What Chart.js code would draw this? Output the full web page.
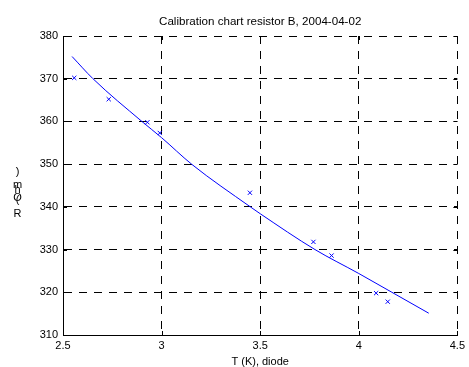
<!DOCTYPE html>
<html>
<head>
<meta charset="utf-8">
<script src="https://cdn.jsdelivr.net/npm/chart.js@4.4.0/dist/chart.umd.min.js"></script>
<style>
  html, body { margin: 0; padding: 0; background: #fff; }
  #wrap { width: 469px; height: 367px; }
</style>
</head>
<body>
<div id="wrap"><canvas id="calChart" width="469" height="367"></canvas></div>
<script>
const measT = [2.557, 2.732, 2.928, 2.991, 3.448, 3.770, 3.862, 4.088, 4.147];
const measR = [370.2, 365.2, 359.8, 357.3, 343.3, 331.8, 328.6, 319.8, 317.8];

// curva di taratura (punti letti lungo la linea blu)
const fitT = [2.546, 2.652, 2.900, 3.000, 3.152, 3.450, 3.500, 3.778, 4.000, 4.168, 4.355];
const fitR = [375.2, 370.0, 360.0, 356.2, 350.0, 340.0, 338.4, 330.0, 324.4, 320.0, 315.1];

const xTicks = [2.5, 3, 3.5, 4, 4.5];
const yTicks = [310, 320, 330, 340, 350, 360, 370, 380];

const titleText = "Calibration chart resistor B, 2004-04-02";
const xTitle = "T (K), diode";
const yTitleChars = ["R", "(", "O", "h", "m", ")"];

const fontFam = "'Liberation Sans', Arial, sans-serif";

// tacche rivolte verso l'interno, su tutti e quattro i lati
const innerTicks = {
    id: "innerTicks",
    afterDraw(chart) {
        const ctx = chart.ctx;
        const a = chart.chartArea;
        const xs = chart.scales.x, ys = chart.scales.y;
        const len = 4;
        ctx.save();
        ctx.strokeStyle = "#000";
        ctx.lineWidth = 1;
        ctx.beginPath();
        xTicks.forEach(v => {
            const px = Math.round(xs.getPixelForValue(v)) + 0.5;
            ctx.moveTo(px, a.bottom); ctx.lineTo(px, a.bottom - len);
            ctx.moveTo(px, a.top); ctx.lineTo(px, a.top + len);
        });
        yTicks.forEach(v => {
            const py = Math.round(ys.getPixelForValue(v)) + 0.5;
            ctx.moveTo(a.left, py); ctx.lineTo(a.left + len, py);
            ctx.moveTo(a.right, py); ctx.lineTo(a.right - len, py);
        });
        ctx.stroke();
        ctx.restore();
    }
};

// titolo centrato sull'area del grafico + etichetta asse Y a caratteri impilati
const labels = {
    id: "labels",
    afterDraw(chart) {
        const ctx = chart.ctx;
        const a = chart.chartArea;
        ctx.save();
        ctx.fillStyle = "#000";
        ctx.textAlign = "center";
        ctx.textBaseline = "middle";
        ctx.font = "11.6px " + fontFam;
        ctx.fillText(titleText, (a.left + a.right) / 2, 22);
        ctx.font = "11px " + fontFam;
        const offs = [214, 200, 198, 190, 185, 172];
        yTitleChars.forEach((c, i) => ctx.fillText(c, 17.5, offs[i]));
        ctx.restore();
    }
};

const ctx = document.getElementById("calChart").getContext("2d");

new Chart(ctx, {
    type: "scatter",
    data: {
        datasets: [
            {
                label: "misure",
                data: measT.map((t, i) => ({ x: t, y: measR[i] })),
                pointStyle: "crossRot",
                pointRadius: 3,
                pointBorderWidth: 1,
                borderColor: "#0000ff",
                backgroundColor: "#0000ff",
                showLine: false
            },
            {
                label: "fit",
                data: fitT.map((t, i) => ({ x: t, y: fitR[i] })),
                showLine: true,
                borderColor: "#0000ff",
                borderWidth: 1,
                pointRadius: 0,
                cubicInterpolationMode: "monotone",
                fill: false
            }
        ]
    },
    options: {
        responsive: false,
        animation: false,
        devicePixelRatio: 1,
        layout: { padding: { left: 0, right: 11, top: 36, bottom: 0 } },
        plugins: {
            legend: { display: false },
            tooltip: { enabled: false },
            title: { display: false }
        },
        scales: {
            x: {
                type: "linear",
                min: 2.5,
                max: 4.5,
                afterBuildTicks: s => { s.ticks = xTicks.map(v => ({ value: v })); },
                afterFit: s => { s.height = 32; },
                ticks: {
                    color: "#000",
                    padding: 4,
                    maxRotation: 0,
                    font: { family: fontFam, size: 11 },
                    callback: v => String(v)
                },
                grid: { color: "#000", lineWidth: 1, drawTicks: false },
                border: { display: true, color: "#000", width: 1, dash: [8, 7] },
                title: {
                    display: true,
                    text: xTitle,
                    color: "#000",
                    font: { family: fontFam, size: 11, lineHeight: 1 },
                    padding: { top: 0, bottom: 0 }
                }
            },
            y: {
                type: "linear",
                min: 310,
                max: 380,
                afterBuildTicks: s => { s.ticks = yTicks.map(v => ({ value: v })); },
                afterFit: s => { s.width = 63; },
                ticks: {
                    color: "#000",
                    padding: 5,
                    font: { family: fontFam, size: 11 }
                },
                grid: { color: "#000", lineWidth: 1, drawTicks: false },
                border: { display: true, color: "#000", width: 1, dash: [8, 7] }
            }
        }
    },
    plugins: [innerTicks, labels]
});
</script>
</body>
</html>
